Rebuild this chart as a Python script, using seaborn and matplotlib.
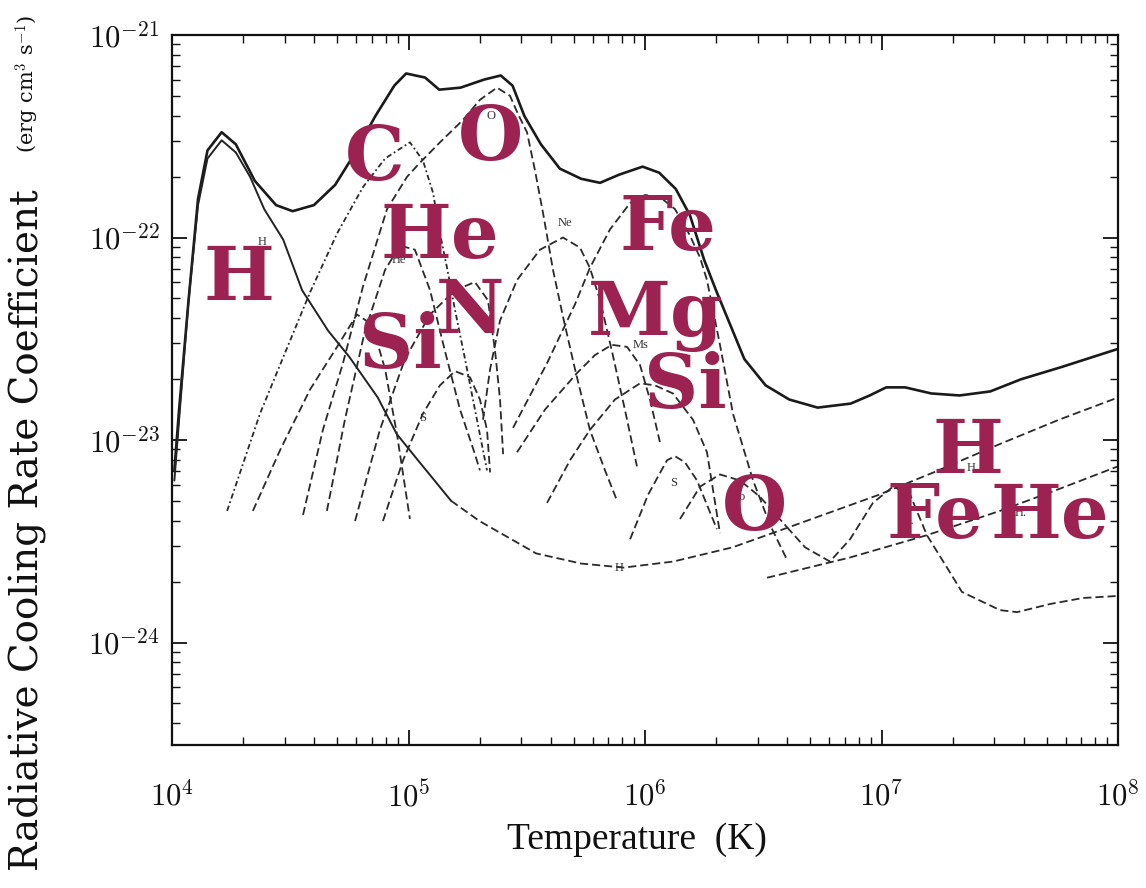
import numpy as np
import pandas as pd
import matplotlib
matplotlib.use("Agg")
import matplotlib.pyplot as plt
import seaborn as sns
from matplotlib.ticker import FixedLocator, FixedFormatter, LogLocator, NullFormatter

# ---------------- data (log10 T [K], log10 Lambda [erg cm^3 s^-1]) ----------------
total_logT = [4.01, 4.03, 4.07, 4.11, 4.15, 4.21, 4.27, 4.35, 4.44, 4.51, 4.60, 4.69, 4.77, 4.86,
              4.94, 4.99, 5.07, 5.13, 5.22, 5.32, 5.39, 5.44, 5.49, 5.56, 5.64, 5.73, 5.81, 5.89,
              5.99, 6.06, 6.13, 6.19, 6.25, 6.30, 6.36, 6.42, 6.51, 6.61, 6.73, 6.87, 6.95, 7.02,
              7.10, 7.21, 7.33, 7.46, 7.59, 7.76, 7.92, 8.00]
total_logL = [-23.15, -22.85, -22.31, -21.81, -21.57, -21.48, -21.54, -21.72, -21.84, -21.87,
              -21.84, -21.74, -21.59, -21.40, -21.25, -21.19, -21.21, -21.27, -21.26, -21.22,
              -21.20, -21.25, -21.40, -21.54, -21.66, -21.71, -21.73, -21.69, -21.65, -21.68,
              -21.76, -21.89, -22.11, -22.26, -22.43, -22.60, -22.73, -22.80, -22.84, -22.82,
              -22.78, -22.74, -22.74, -22.77, -22.78, -22.76, -22.70, -22.64, -22.58, -22.55]

H_low_logT = [4.01, 4.03, 4.07, 4.11, 4.15, 4.21, 4.27, 4.33, 4.39, 4.47, 4.55, 4.66, 4.75, 4.87,
              4.95, 5.04, 5.18]
H_low_logL = [-23.20, -22.90, -22.31, -21.84, -21.61, -21.52, -21.58, -21.70, -21.86, -22.01,
              -22.26, -22.46, -22.59, -22.79, -22.97, -23.10, -23.30]
H_high_logT = [5.18, 5.30, 5.54, 5.73, 5.91, 6.12, 6.37, 6.61, 6.99, 7.22, 7.50, 7.75, 8.00]
H_high_logL = [-23.30, -23.40, -23.56, -23.61, -23.63, -23.60, -23.53, -23.43, -23.27, -23.16,
               -23.02, -22.90, -22.79]

He_low_logT = [4.655, 4.731, 4.816, 4.901, 4.964, 5.027, 5.091, 5.154, 5.218, 5.281, 5.302]
He_low_logL = [-23.35, -22.90, -22.46, -22.16, -22.04, -22.06, -22.26, -22.56, -22.85, -23.07, -23.15]
He_high_logT = [6.516, 6.867, 7.192, 7.501, 7.755, 8.000]
He_high_logL = [-23.68, -23.58, -23.47, -23.35, -23.24, -23.13]

C_logT = [4.233, 4.372, 4.499, 4.584, 4.698, 4.808, 4.901, 5.006, 5.061, 5.104, 5.133, 5.163,
          5.197, 5.239, 5.281, 5.332]
C_logL = [-23.35, -22.87, -22.51, -22.27, -21.98, -21.75, -21.61, -21.53, -21.62, -21.78, -21.98,
          -22.15, -22.36, -22.60, -22.85, -23.15]

N_logT = [4.774, 4.879, 4.985, 5.091, 5.197, 5.281, 5.336, 5.366, 5.387, 5.400]
N_logL = [-23.40, -22.95, -22.60, -22.38, -22.26, -22.22, -22.31, -22.56, -22.80, -23.07]

O_logT = [4.554, 4.638, 4.723, 4.808, 4.909, 4.994, 5.049, 5.133, 5.230, 5.302, 5.374, 5.429,
          5.463, 5.501, 5.535, 5.569, 5.611, 5.653, 5.704, 5.767, 5.831, 5.882]
O_logL = [-23.37, -22.95, -22.62, -22.24, -21.86, -21.70, -21.63, -21.53, -21.42, -21.32, -21.26,
          -21.30, -21.39, -21.48, -21.67, -21.88, -22.16, -22.39, -22.65, -22.95, -23.15, -23.30]
O_high_logT = [6.148, 6.233, 6.317, 6.402, 6.486, 6.600]
O_high_logL = [-23.39, -23.23, -23.17, -23.20, -23.28, -23.43]

Ne_logT = [5.315, 5.345, 5.387, 5.459, 5.556, 5.653, 5.725, 5.767, 5.810, 5.860, 5.915, 5.966]
Ne_logL = [-22.90, -22.65, -22.41, -22.21, -22.06, -22.00, -22.05, -22.15, -22.31, -22.56, -22.85, -23.13]

Mg_logT = [5.459, 5.577, 5.712, 5.789, 5.860, 5.924, 5.979, 6.021, 6.063]
Mg_logL = [-23.06, -22.85, -22.67, -22.58, -22.53, -22.54, -22.63, -22.80, -23.01]

Si_low_logT = [4.342, 4.457, 4.584, 4.698, 4.782, 4.846, 4.901, 4.951, 5.006]
Si_low_logL = [-23.35, -23.05, -22.75, -22.54, -22.38, -22.43, -22.65, -22.97, -23.39]
Si_high_logT = [5.586, 5.683, 5.767, 5.873, 5.979, 6.042, 6.118, 6.203, 6.262, 6.317]
Si_high_logL = [-23.31, -23.10, -22.95, -22.80, -22.72, -22.73, -22.77, -22.90, -23.06, -23.46]

S_low_logT = [4.892, 4.977, 5.061, 5.133, 5.197, 5.260, 5.302, 5.332, 5.345]
S_low_logL = [-23.40, -23.10, -22.87, -22.73, -22.66, -22.69, -22.80, -22.95, -23.16]
S_high_logT = [5.937, 6.013, 6.093, 6.127, 6.169, 6.220, 6.262, 6.304]
S_high_logL = [-23.49, -23.27, -23.10, -23.08, -23.11, -23.20, -23.32, -23.44]

Fe_logT = [5.442, 5.586, 5.704, 5.767, 5.852, 5.937, 6.000, 6.063, 6.127, 6.190, 6.233, 6.262,
           6.317, 6.372, 6.457, 6.529, 6.600]
Fe_logL = [-22.94, -22.62, -22.33, -22.15, -21.96, -21.83, -21.79, -21.80, -21.86, -21.99, -22.10,
           -22.21, -22.53, -22.87, -23.20, -23.42, -23.59]
Fe_high_logT = [6.600, 6.677, 6.782, 6.867, 6.964, 7.049, 7.121, 7.192, 7.277, 7.340, 7.501,
                7.573, 7.712, 7.852, 8.000]
Fe_high_logL = [-23.43, -23.53, -23.60, -23.49, -23.31, -23.23, -23.27, -23.47, -23.63, -23.75,
                -23.84, -23.85, -23.81, -23.78, -23.77]

# small labels printed in the original scan
small_text = ["H", "He", "O", "Ne", "Ms", "S", "S", "H", "o", "e.", "H", "H."]
small_logT = [4.38, 4.96, 5.35, 5.66, 5.98, 5.06, 6.12, 5.89, 6.41, 7.12, 7.38, 7.59]
small_logL = [-22.02, -22.11, -21.40, -21.93, -22.53, -22.89, -23.21, -23.63, -23.28, -23.40, -23.14, -23.36]

# element labels overlaid in colour
elem_text = ["H", "C", "O", "He", "N", "Si", "Fe", "Mg", "Si", "O", "H", "Fe", "He"]
elem_logT = [4.283, 4.858, 5.345, 5.133, 5.260, 4.964, 6.097, 6.047, 6.169, 6.465, 7.366, 7.226, 7.712]
elem_logL = [-22.309, -21.716, -21.617, -22.101, -22.472, -22.644, -22.062, -22.481, -22.842,
             -23.444, -23.163, -23.484, -23.484]

x_ticks = [1e4, 1e5, 1e6, 1e7, 1e8]
x_ticklabels = ["$10^4$", "$10^5$", "$10^6$", "$10^7$", "$10^8$"]
y_ticks = [1e-24, 1e-23, 1e-22, 1e-21]
y_ticklabels = ["$10^{-24}$", "$10^{-23}$", "$10^{-22}$", "$10^{-21}$"]

ylabel_main = "Radiative Cooling Rate Coefficient"
ylabel_units = "(erg cm$^3$ s$^{-1}$)"
xlabel_text = "Temperature  (K)"

# ---------------- build table ----------------
curves = [
    ("total", total_logT, total_logL, "total"),
    ("H_low", H_low_logT, H_low_logL, "thin"),
    ("H_high", H_high_logT, H_high_logL, "dash"),
    ("He_low", He_low_logT, He_low_logL, "dash"),
    ("He_high", He_high_logT, He_high_logL, "dash"),
    ("C", C_logT, C_logL, "dot"),
    ("N", N_logT, N_logL, "dash"),
    ("O", O_logT, O_logL, "dash"),
    ("O_high", O_high_logT, O_high_logL, "dash"),
    ("Ne", Ne_logT, Ne_logL, "dash"),
    ("Mg", Mg_logT, Mg_logL, "dash"),
    ("Si_low", Si_low_logT, Si_low_logL, "dash"),
    ("Si_high", Si_high_logT, Si_high_logL, "dash"),
    ("S_low", S_low_logT, S_low_logL, "dash"),
    ("S_high", S_high_logT, S_high_logL, "dash"),
    ("Fe", Fe_logT, Fe_logL, "dash"),
    ("Fe_high", Fe_high_logT, Fe_high_logL, "dash"),
]
frames = []
for name, lt, ll, sty in curves:
    frames.append(pd.DataFrame({"T": 10 ** np.array(lt), "L": 10 ** np.array(ll),
                                "curve": name, "kind": sty}))
df = pd.concat(frames, ignore_index=True)

styles = {
    "total": dict(color="#1a1a1a", linewidth=1.9, linestyle="-"),
    "thin": dict(color="#222222", linewidth=1.4, linestyle="-"),
    "dash": dict(color="#2a2a2a", linewidth=1.3, linestyle=(0, (4.5, 2.2))),
    "dot": dict(color="#2a2a2a", linewidth=1.3, linestyle=(0, (3.0, 1.6, 1.0, 1.6))),
}

# ---------------- plot ----------------
sns.set_theme(style="ticks")
plt.rcParams["font.family"] = ["Liberation Serif", "DejaVu Serif"]
plt.rcParams["mathtext.fontset"] = "cm"

fig = plt.figure(figsize=(11.46, 8.88), dpi=100)
fig.patch.set_facecolor("white")
ax = fig.add_axes([172 / 1146, 1 - 745 / 888, 946 / 1146, 710 / 888])
ax.set_facecolor("white")

for name, lt, ll, sty in curves:
    sns.lineplot(data=df[df["curve"] == name], x="T", y="L", ax=ax, sort=False,
                 estimator=None, legend=False, **styles[sty])

ax.set_xscale("log")
ax.set_yscale("log")
ax.set_xlim(1e4, 1e8)
ax.set_ylim(10 ** -24.506, 1e-21)

ax.xaxis.set_major_locator(FixedLocator(x_ticks))
ax.xaxis.set_major_formatter(FixedFormatter(x_ticklabels))
ax.yaxis.set_major_locator(FixedLocator(y_ticks))
ax.yaxis.set_major_formatter(FixedFormatter(y_ticklabels))
ax.xaxis.set_minor_locator(LogLocator(base=10, subs=np.arange(2, 10), numticks=20))
ax.yaxis.set_minor_locator(LogLocator(base=10, subs=np.arange(2, 10), numticks=20))
ax.xaxis.set_minor_formatter(NullFormatter())
ax.yaxis.set_minor_formatter(NullFormatter())

ax.tick_params(which="both", direction="in", top=True, right=True, colors="#111111")
ax.tick_params(which="major", length=11, width=1.3, labelsize=22)
ax.tick_params(which="minor", length=5.5, width=1.0)
ax.tick_params(axis="x", which="major", pad=26)
ax.tick_params(axis="y", which="major", pad=9)
for s in ax.spines.values():
    s.set_linewidth(1.6)
    s.set_color("#111111")

ax.set_xlabel("")
ax.set_ylabel("")
fig.text(637 / 1146, 1 - 840 / 888, xlabel_text, fontsize=27, color="#111111",
         ha="center", va="center")
fig.text(28 / 1146, 1 - 530 / 888, ylabel_main, fontsize=28, color="#111111",
         rotation=90, ha="center", va="center", family=["DejaVu Serif"])
fig.text(28 / 1146, 1 - 84 / 888, ylabel_units, fontsize=15, color="#111111",
         rotation=90, ha="center", va="center", family=["DejaVu Serif"])

for t, lx, ly in zip(small_text, small_logT, small_logL):
    ax.text(10 ** lx, 10 ** ly, t, fontsize=9, color="#333333", ha="center", va="center")

for t, lx, ly in zip(elem_text, elem_logT, elem_logL):
    ax.text(10 ** lx, 10 ** ly, t, fontsize=54, fontweight="bold", color="#9B2251",
            ha="center", va="baseline", family=["DejaVu Serif"])

fig.savefig("out.png", dpi=100, facecolor="white")
